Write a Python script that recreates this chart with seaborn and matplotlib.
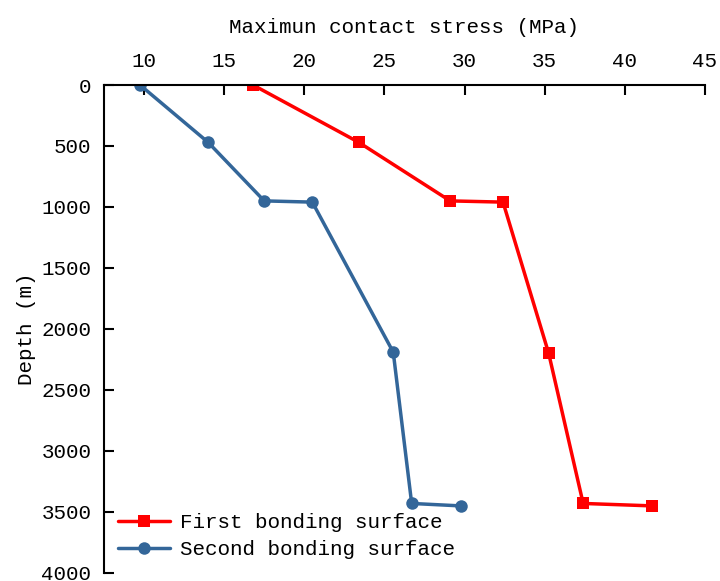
import numpy as np
import pandas as pd
import seaborn as sns
import matplotlib.pyplot as plt

# Depth of each point (m)
depth_first = [0, 470, 950, 960, 2200, 3430, 3450]
depth_second = [0, 470, 950, 960, 2190, 3430, 3450]

# Maximum contact stress (MPa)
stress_first = [16.8, 23.4, 29.1, 32.4, 35.25, 37.4, 41.7]
stress_second = [9.75, 14.0, 17.5, 20.5, 25.55, 26.7, 29.75]

labels = ["First bonding surface", "Second bonding surface"]

sns.set_style("ticks")
plt.rcParams['font.family'] = ['Liberation Mono', 'DejaVu Sans']
plt.rcParams['text.color'] = 'black'
plt.rcParams['axes.labelcolor'] = 'black'

df1 = pd.DataFrame({"stress": stress_first, "depth": depth_first})
df2 = pd.DataFrame({"stress": stress_second, "depth": depth_second})

fig = plt.figure(figsize=(7.2, 5.81), dpi=100)
ax = fig.add_axes([0.1444, 0.0138, 0.8347, 0.8399])

sns.lineplot(data=df1, x="stress", y="depth", sort=False, color="#FF0000",
             marker="s", markersize=9, markeredgewidth=0, linewidth=2.5,
             label=labels[0], ax=ax)
sns.lineplot(data=df2, x="stress", y="depth", sort=False, color="#336699",
             marker="o", markersize=9, markeredgewidth=0, linewidth=2.5,
             label=labels[1], ax=ax)

ax.set_xlim(7.5, 45)
ax.set_ylim(4000, 0)
ax.set_xticks(np.arange(10, 46, 5))
ax.set_yticks(np.arange(0, 4001, 500))

ax.xaxis.tick_top()
ax.xaxis.set_label_position("top")
ax.set_xlabel("Maximun contact stress (MPa)", fontsize=15, labelpad=14)
ax.set_ylabel("Depth (m)", fontsize=15, labelpad=4)

for s in ["right", "bottom"]:
    ax.spines[s].set_visible(False)
for s in ["top", "left"]:
    ax.spines[s].set_linewidth(1.5)
    ax.spines[s].set_color("black")

ax.tick_params(axis="both", direction="in", length=7, width=1.5,
               labelsize=15, colors="black")
ax.tick_params(axis="x", pad=10)
ax.tick_params(axis="y", pad=9)

ax.legend(loc="lower left", frameon=False, fontsize=15, handlelength=2.5,
          borderaxespad=0.25, labelspacing=0.4, handletextpad=0.5)

fig.savefig("out.png", dpi=100)
